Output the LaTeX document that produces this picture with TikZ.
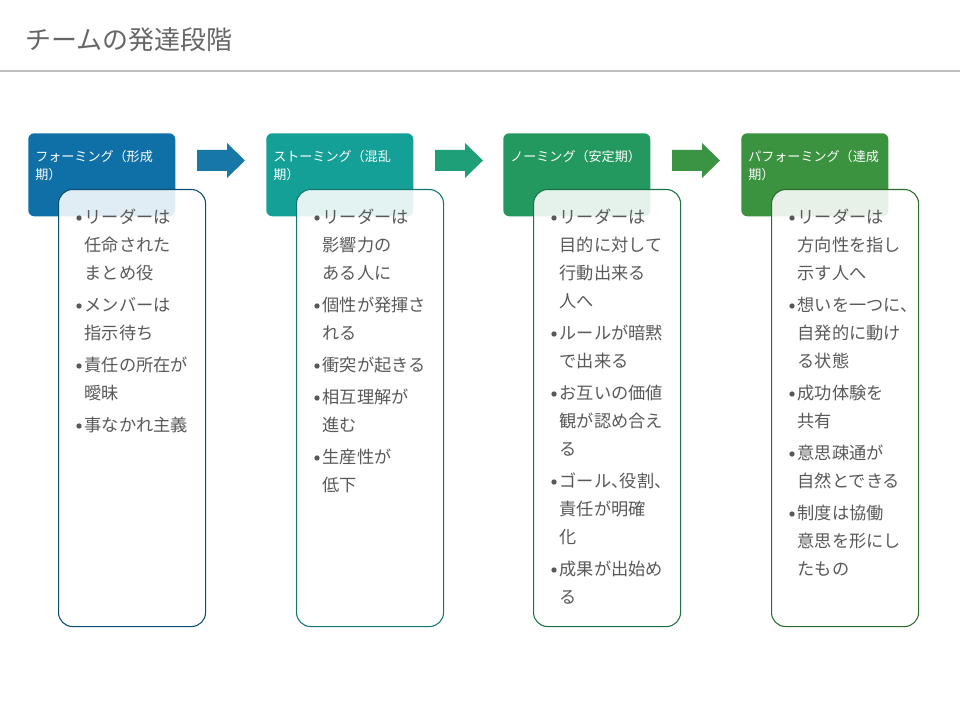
\documentclass[tikz,border=0pt]{standalone}
\usepackage{fontspec}
\setmainfont{Noto Sans CJK JP}
\definecolor{hA}{HTML}{0F70A7}
\definecolor{hB}{HTML}{14A096}
\definecolor{hC}{HTML}{23995F}
\definecolor{hD}{HTML}{3B923F}
\definecolor{aA}{HTML}{1777A7}
\definecolor{aB}{HTML}{1F9F78}
\definecolor{aC}{HTML}{3A9443}
\definecolor{txt}{HTML}{595959}
\definecolor{ttl}{HTML}{666666}
\definecolor{rule}{HTML}{BDBDBD}
\newcommand\hc{\makebox[0.5em][l]{、}}
\begin{document}
\begin{tikzpicture}[x=0.75pt,y=-0.75pt,
  hdr/.style={rectangle, rounded corners=4.5pt, anchor=north west, inner sep=0pt,
    minimum width={147*0.75pt}, minimum height={83*0.75pt}},
  body/.style={rectangle, rounded corners=10.5pt, anchor=north west, inner sep=0pt,
    minimum width={147*0.75pt}, minimum height={437*0.75pt}, fill=white, fill opacity=0.88, line width=0.8pt},
  htext/.style={anchor=west, inner sep=0pt, text=white, font=\fontsize{9.8pt}{11pt}\selectfont},
  btext/.style={anchor=west, inner sep=0pt, text=txt, font=\fontsize{12.9pt}{15pt}\selectfont},
  bdot/.style={circle, fill=txt, inner sep=0pt, minimum size=4pt}
]
\useasboundingbox (0,0) rectangle (960,720);
% title
\node[anchor=west, inner sep=0pt, text=ttl, font=\fontsize{19.5pt}{22pt}\selectfont] (title) at (25,40) {チームの発達段階};
\draw[rule, line width=1.5pt] (0,71) -- (960,71);

% headers
\node[hdr, fill=hA] (hdA) at (28,133) {};
\node[hdr, fill=hB] (hdB) at (266,133) {};
\node[hdr, fill=hC] (hdC) at (503,133) {};
\node[hdr, fill=hD] (hdD) at (741,133) {};

\node[htext] (htA1) at (35,157) {フォーミング（形成};
\node[htext] (htA2) at (35,175) {期）};
\node[htext] (htB1) at (273,157) {ストーミング（混乱};
\node[htext] (htB2) at (273,175) {期）};
\node[htext] (htC1) at (510,157) {ノーミング（安定期）};
\node[htext] (htD1) at (748,157) {パフォーミング（達成};
\node[htext] (htD2) at (748,175) {期）};

% arrows
\fill[aA] (197,150) -- (227,150) -- (227,143) -- (245,160.5) -- (227,178) -- (227,171) -- (197,171) -- cycle;
\fill[aB] (435,150) -- (465,150) -- (465,143) -- (483,160.5) -- (465,178) -- (465,171) -- (435,171) -- cycle;
\fill[aC] (672,150) -- (702,150) -- (702,143) -- (720,160.5) -- (702,178) -- (702,171) -- (672,171) -- cycle;

% bodies
\node[body, draw=hA!70!black] (bdA) at (58,189) {};
\node[body, draw=hB!75!black] (bdB) at (296,189) {};
\node[body, draw=hC!75!black] (bdC) at (533,189) {};
\node[body, draw=hD!75!black] (bdD) at (771,189) {};

% body text col A
\foreach \y/\b/\t in {217/1/リーダーは, 245/0/任命された, 273/0/まとめ役, 305/1/メンバーは, 333/0/指示待ち, 365/1/責任の所在が, 393/0/曖昧, 425/1/事なかれ主義}{
  \node[btext] (ta\y) at (84.5,\y) {\t};
  \ifnum\b=1 \node[bdot] (da\y) at (79,\y+1) {};\fi
}
% col B
\foreach \y/\b/\t in {217/1/リーダーは, 245/0/影響力の, 273/0/ある人に, 305/1/個性が発揮さ, 333/0/れる, 365/1/衝突が起きる, 397/1/相互理解が, 425/0/進む, 457/1/生産性が, 485/0/低下}{
  \node[btext] (tb\y) at (322.5,\y) {\t};
  \ifnum\b=1 \node[bdot] (db\y) at (317,\y+1) {};\fi
}
% col C
\foreach \y/\b/\t in {217/1/リーダーは, 245/0/目的に対して, 273/0/行動出来る, 301/0/人へ, 333/1/ルールが暗黙, 361/0/で出来る, 393/1/お互いの価値, 421/0/観が認め合え, 449/0/る, 481/1/ゴール\hc 役割\hc, 509/0/責任が明確, 537/0/化, 569/1/成果が出始め, 597/0/る}{
  \node[btext] (tc\y) at (559.5,\y) {\t};
  \ifnum\b=1 \node[bdot] (dc\y) at (554,\y+1) {};\fi
}
% col D
\foreach \y/\b/\t in {217/1/リーダーは, 245/0/方向性を指し, 273/0/示す人へ, 305/1/想いを一つに\hc, 333/0/自発的に動け, 361/0/る状態, 393/1/成功体験を, 421/0/共有, 453/1/意思疎通が, 481/0/自然とできる, 513/1/制度は協働, 541/0/意思を形にし, 569/0/たもの}{
  \node[btext] (td\y) at (797.5,\y) {\t};
  \ifnum\b=1 \node[bdot] (dd\y) at (792,\y+1) {};\fi
}
\end{tikzpicture}
\end{document}
